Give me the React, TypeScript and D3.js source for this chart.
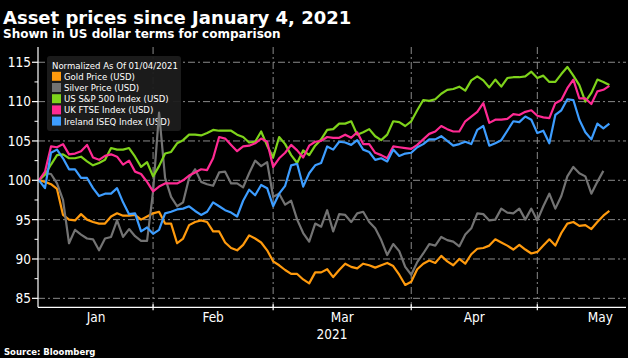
import React from 'react';
import * as d3 from 'd3';

const W = 628;
const H = 358;

const TITLE = 'Asset prices since January 4, 2021';
const SUBTITLE = 'Shown in US dollar terms for comparison';
const SOURCE = 'Source: Bloomberg';
const LEGEND_TITLE = 'Normalized As Of 01/04/2021';
const YEAR_LABEL = '2021';

const SERIES_NAMES = [
  'Gold Price (USD)',
  'Silver Price (USD)',
  'US S&P 500 Index (USD)',
  'UK FTSE Index (USD)',
  'Ireland ISEQ Index (USD)',
];
const SERIES_COLORS = ['#ff9a0d', '#737373', '#7ed31b', '#ff2a93', '#3d9dff'];

const gold = [
  100.0, 99.8, 99.5, 98.9, 95.6, 95.0, 94.9, 95.7, 95.0, 94.7,
  94.5, 94.5, 95.4, 95.8, 95.5, 95.5, 95.6, 95.0, 95.4, 95.8,
  96.0, 94.5, 94.5, 92.0, 92.6, 94.3, 94.7, 94.9, 94.7, 93.5,
  93.5, 92.1, 91.4, 91.1, 91.8, 93.0, 92.6, 92.1, 91.1, 89.7,
  89.2, 88.6, 88.1, 88.1, 87.4, 86.9, 88.3, 88.3, 88.7, 87.7,
  88.6, 89.4, 89.0, 88.8, 89.4, 89.2, 88.9, 89.2, 89.5, 89.1,
  88.0, 86.7, 87.1, 88.7, 89.4, 89.8, 89.5, 90.4, 89.7, 89.2,
  90.0, 89.4, 90.6, 91.3, 91.4, 91.7, 92.5, 92.1, 91.7, 91.2,
  91.8, 91.2, 90.7, 90.9, 91.7, 92.5, 91.7, 93.3, 94.5, 94.7,
  94.2, 94.3, 93.8, 94.7, 95.5, 96.1,
];
const silver = [
  100.0, 100.9, 100.8, 99.6, 97.5, 92.0, 93.7, 93.1, 92.6, 92.5,
  91.1, 92.6, 92.8, 94.9, 92.8, 93.8, 92.9, 92.3, 92.3, 98.6,
  108.6, 100.3, 97.9, 96.7, 97.2, 100.3, 101.4, 99.8, 99.5, 99.3,
  101.0, 101.1, 99.6, 99.6, 99.1, 100.9, 102.5, 101.8, 102.3, 97.9,
  98.3, 96.9, 97.4, 95.0, 93.3, 92.2, 94.5, 94.1, 96.2, 93.5,
  95.7, 95.6, 94.7, 95.8, 96.0, 94.7, 93.9, 92.4, 90.5, 91.9,
  91.0, 89.0, 88.0, 89.6, 90.7, 91.9, 91.7, 92.8, 92.4, 92.2,
  91.6, 93.1, 93.9, 95.8, 95.7, 94.9, 95.0, 96.4, 95.9, 95.8,
  96.4, 95.0, 96.4, 94.9, 96.7, 98.3, 96.4, 98.0, 100.5, 101.7,
  100.9, 100.5, 98.3, 99.8, 101.2,
];
const sp500 = [
  100.0, 100.7, 102.0, 103.2, 103.3, 102.8, 102.8, 103.0, 102.4, 101.9,
  102.2, 102.6, 104.1, 103.9, 103.9, 104.1, 103.0, 101.7, 102.3, 100.5,
  101.8, 103.4, 103.6, 104.7, 105.1, 105.8, 105.8, 105.7, 106.0, 106.4,
  106.3, 106.3, 106.3, 105.8, 105.5, 104.8, 104.9, 106.2, 104.4, 102.9,
  105.5, 104.6, 103.2, 102.2, 103.8, 103.2, 104.4, 105.2, 106.4, 106.5,
  107.2, 107.2, 107.5, 105.8, 106.1, 106.5, 105.6, 105.1, 105.8, 107.5,
  107.4, 106.9, 107.5, 108.9, 110.2, 110.1, 110.3, 111.0, 111.5, 111.6,
  111.9, 111.4, 112.7, 113.2, 112.7, 111.8, 112.8, 111.9, 113.0, 113.1,
  113.1, 113.2, 113.8, 113.0, 113.3, 112.5, 112.5, 113.5, 114.4, 113.3,
  112.1, 110.0, 111.1, 112.8, 112.5, 112.1,
];
const ftse = [
  100.0, 101.1, 104.3, 104.2, 104.6, 103.3, 103.4, 103.7, 104.5, 102.9,
  102.6, 103.1, 103.3, 103.0, 102.0, 102.5, 101.1, 100.8, 99.8, 98.6,
  99.2, 99.6, 99.6, 99.6, 100.0, 100.6, 101.0, 101.4, 101.3, 102.8,
  105.5, 105.3, 104.5, 103.7, 104.3, 104.4, 104.7, 105.3, 104.9, 101.7,
  102.8, 103.5, 104.5, 103.8, 102.9, 104.4, 104.9, 105.0, 105.5, 105.4,
  105.4, 105.8, 105.4, 106.1, 104.6, 104.6, 103.5, 103.2, 102.8, 104.3,
  104.2, 104.1, 104.0, 104.5, 105.2, 105.9, 106.2, 106.9, 106.5, 106.2,
  106.2, 107.5, 108.1, 108.7, 109.8, 107.3, 107.7, 107.7, 107.8, 108.4,
  108.3, 108.7, 108.9, 108.2, 108.0, 107.9, 109.8, 110.2, 111.7, 112.8,
  110.4, 110.4, 109.7, 111.3, 111.5, 112.0,
];
const iseq = [
  100.0, 99.0, 103.5, 103.9, 102.8, 101.4, 101.4, 100.3, 100.3, 99.0,
  98.0, 98.3, 98.3, 99.0, 97.2, 95.7, 95.8, 93.5, 94.0, 93.2,
  93.7, 95.8, 96.0, 96.3, 96.4, 96.7, 96.1, 95.6, 96.0, 97.2,
  96.7, 96.2, 95.9, 95.4, 97.4, 98.8, 98.1, 99.4, 99.0, 96.7,
  98.3, 99.3, 101.9, 102.1, 99.2, 100.9, 101.9, 102.2, 104.3, 103.9,
  104.9, 104.8, 104.5, 105.1, 103.9, 103.6, 102.6, 102.8, 102.4, 103.9,
  103.1, 103.4, 103.5, 104.2, 104.6, 105.2, 105.2, 105.6, 105.0, 104.4,
  104.6, 104.9, 104.6, 106.4, 106.9, 104.4, 104.7, 105.1, 106.3, 107.5,
  107.4, 108.1, 107.7, 106.0, 106.3, 104.7, 108.3, 108.9, 110.3, 110.2,
  107.7, 106.1, 105.2, 107.2, 106.6, 107.2,
];

const SERIES = [gold, silver, sp500, ftse, iseq];

const Y_TICKS = [85, 90, 95, 100, 105, 110, 115];
const Y_MINOR = [87.5, 92.5, 97.5, 102.5, 107.5, 112.5];
const CAL_START = '2021-01-04';
const CAL_END = '2021-06-01';
const HOLIDAYS = ['2021-01-18', '2021-04-02'];

const COND = "'DejaVu Sans Condensed', 'DejaVu Sans', sans-serif";
const BOLD = "'DejaVu Sans', sans-serif";

export default function App() {
  const parse = d3.timeParse('%Y-%m-%d');
  const fmt = d3.timeFormat('%Y-%m-%d');
  const days = d3.timeDay
    .range(parse(CAL_START) as Date, parse(CAL_END) as Date)
    .filter((d) => d.getDay() % 6 !== 0 && !HOLIDAYS.includes(fmt(d)));

  const left = 38;
  const right = 626;
  const top = 47;
  const bottom = 307.3;

  const x = d3.scaleLinear().domain([-0.1666, 97.77]).range([left, right]);
  const y = d3.scaleLinear().domain([83.86, 116.94]).range([bottom, top]);

  const months = d3.range(0, 5).map((m) => {
    const first = days.findIndex((d) => d.getMonth() === m);
    const nextIdx = days.findIndex((d) => d.getMonth() === m + 1);
    const next = nextIdx < 0 ? days.length : nextIdx;
    return { first, next, label: d3.timeFormat('%b')(days[first]) };
  });

  const line = d3
    .line<number>()
    .x((_, i) => x(i))
    .y((d) => y(d));

  const grid = '#8a8a8a';
  const dash = '7,3,2,3';

  return (
    <svg
      width={W}
      height={H}
      style={{ position: 'absolute', left: 0, top: 0, background: '#000' }}
    >
      <rect x={0} y={0} width={W} height={H} fill="#000" />
      <text x={3} y={24} fill="#fff" fontFamily={BOLD} fontWeight="bold" fontSize={18}>
        {TITLE}
      </text>
      <text x={3} y={38} fill="#fff" fontFamily={BOLD} fontWeight="bold" fontSize={12}>
        {SUBTITLE}
      </text>

      {Y_TICKS.map((t) => (
        <line key={'g' + t} x1={left} x2={right} y1={y(t)} y2={y(t)} stroke={grid} strokeWidth={1} strokeDasharray={dash} />
      ))}
      {months.slice(1).map((m) => (
        <line key={'v' + m.label} x1={x(m.first)} x2={x(m.first)} y1={top} y2={bottom} stroke={grid} strokeWidth={1} strokeDasharray={dash} />
      ))}

      <g>
        <rect x={47} y={56} width={134} height={75} rx={3} fill="#1c1c1c" fillOpacity={0.95} />
        <text x={52} y={69} fill="#fff" fontFamily={COND} fontSize={9.5}>
          {LEGEND_TITLE}
        </text>
        {SERIES_NAMES.map((n, i) => (
          <g key={n}>
            <rect x={52} y={71.8 + i * 11.2} width={9} height={9} fill={SERIES_COLORS[i]} />
            <text x={64} y={79.8 + i * 11.2} fill="#fff" fontFamily={COND} fontSize={9.5}>
              {n}
            </text>
          </g>
        ))}
      </g>

      {SERIES.map((s, i) => (
        <path key={i} d={line(s) || ''} fill="none" stroke={SERIES_COLORS[i]} strokeWidth={2.2} strokeLinejoin="round" />
      ))}

      <line x1={left} x2={left} y1={top} y2={bottom} stroke="#fff" strokeWidth={1.2} />
      <line x1={left} x2={right} y1={bottom} y2={bottom} stroke="#fff" strokeWidth={1.2} />
      {Y_TICKS.map((t) => (
        <g key={'t' + t}>
          <line x1={32} x2={left} y1={y(t)} y2={y(t)} stroke="#fff" strokeWidth={1.2} />
          <text x={31} y={y(t)} dy="0.36em" textAnchor="end" fill="#fff" fontFamily={COND} fontSize={13.5}>
            {t}
          </text>
        </g>
      ))}
      {Y_MINOR.map((t) => (
        <line key={'m' + t} x1={34.5} x2={left} y1={y(t)} y2={y(t)} stroke="#fff" strokeWidth={1} />
      ))}
      {months.slice(1).map((m) => (
        <line key={'xt' + m.label} x1={x(m.first)} x2={x(m.first)} y1={bottom - 3} y2={bottom + 3} stroke="#fff" strokeWidth={1.2} />
      ))}
      {months.map((m) => (
        <text key={'xl' + m.label} x={(x(m.first) + x(m.next)) / 2} y={322} textAnchor="middle" fill="#fff" fontFamily={COND} fontSize={13.5}>
          {m.label}
        </text>
      ))}
      <text x={(left + right) / 2} y={339} textAnchor="middle" fill="#fff" fontFamily={COND} fontSize={13.5}>
        {YEAR_LABEL}
      </text>
      <text x={4} y={355} fill="#fff" fontFamily={BOLD} fontWeight="bold" fontSize={8.5}>
        {SOURCE}
      </text>
    </svg>
  );
}
